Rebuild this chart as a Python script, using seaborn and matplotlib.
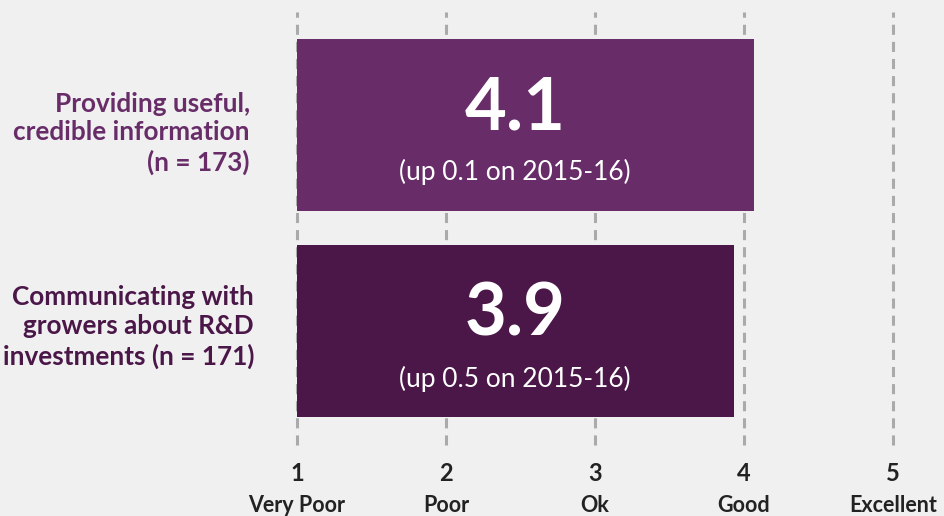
import matplotlib
matplotlib.use("Agg")
from matplotlib import pyplot as plt
import seaborn as sns
import pandas as pd

# data
items = ["Providing useful,\ncredible information\n(n = 173)",
         "Communicating with\ngrowers about R&D\ninvestments (n = 171)"]
scores = [4.07, 3.93]
score_labels = ["4.1", "3.9"]
notes = ["(up 0.1 on 2015-16)", "(up 0.5 on 2015-16)"]
bar_colors = ["#682d69", "#4a1748"]
ticks = [1, 2, 3, 4, 5]
tick_names = ["Very Poor", "Poor", "Ok", "Good", "Excellent"]

bg = "#f0f0f0"
sns.set_style("white")
plt.rcParams['font.family'] = ['Lato', 'DejaVu Sans']

df = pd.DataFrame({'item': items, 'score': scores})

fig = plt.figure(figsize=(9.44, 5.16), dpi=100, facecolor=bg)
ax = fig.add_axes([297/944, 1-445/516, 596/944, 433/516])
ax.set_facecolor(bg)

g = sns.barplot(data=df, x='score', y='item', hue='item', palette=bar_colors,
                orient='h', width=0.835, saturation=1, legend=False, ax=ax,
                zorder=3, linewidth=0, edgecolor='none')

ax.set_xlim(1, 5)
ax.set_ylim(1.553, -0.5485)
for t in ticks:
    ax.axvline(t, color="#aaaaaa", lw=2.2, ls=(0, (3.3, 2.3)), zorder=1, clip_on=False)

for s in ax.spines.values():
    s.set_visible(False)

# big numbers inside bars
for i, (lab, n) in enumerate(zip(score_labels, notes)):
    ax.text(2.465, i - 0.08, lab, color="white", fontsize=52,
            fontweight='bold', ha='center', va='center', zorder=4)
    ax.text(2.465, i + 0.23, n, color="white", fontsize=19,
            ha='center', va='center', zorder=4)

# y labels (drawn as text so each can sit where the reference puts it)
ax.set_ylabel('')
ax.set_xlabel('')
ax.set_yticks([])
label_y = [0.04, -0.02]
label_x = [-0.079, -0.072]
for i, (txt, c) in enumerate(zip(items, bar_colors)):
    ax.text(label_x[i], i + label_y[i], txt, transform=ax.get_yaxis_transform(),
            ha='right', va='center', fontsize=18.8, fontweight='bold', color=c,
            linespacing=1.24, clip_on=False)

# x labels
ax.set_xticks(ticks)
ax.set_xticklabels([str(t) for t in ticks], fontsize=17, fontweight='bold', color="#222222")
ax.tick_params(axis='x', length=0, pad=12)
for t, name in zip(ticks, tick_names):
    ax.text(t, -0.139, name, transform=ax.get_xaxis_transform(), ha='center', va='center',
            fontsize=15.5, fontweight='bold', color="#222222", clip_on=False)

plt.savefig("out.png", dpi=100, facecolor=bg)
